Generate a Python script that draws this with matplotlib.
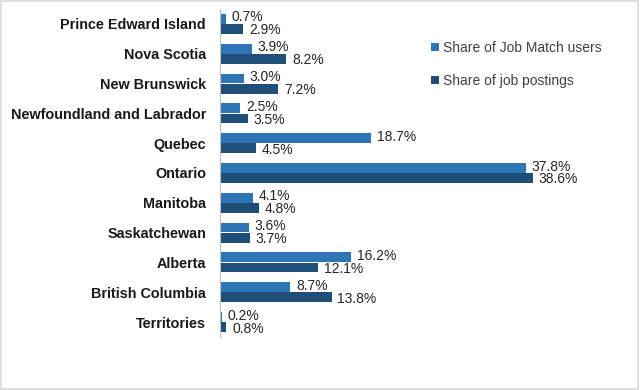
import matplotlib
matplotlib.use("Agg")
import matplotlib.pyplot as plt
from matplotlib.patches import Rectangle
import numpy as np

plt.rcParams['font.family'] = ['Liberation Sans', 'DejaVu Sans']

categories = ["Prince Edward Island", "Nova Scotia", "New Brunswick",
              "Newfoundland and Labrador", "Quebec", "Ontario", "Manitoba",
              "Saskatchewan", "Alberta", "British Columbia", "Territories"]
job_match = [0.7, 3.9, 3.0, 2.5, 18.7, 37.8, 4.1, 3.6, 16.2, 8.7, 0.2]
job_postings = [2.9, 8.2, 7.2, 3.5, 4.5, 38.6, 4.8, 3.7, 12.1, 13.8, 0.8]
series_names = ["Share of Job Match users", "Share of job postings"]

c_light = "#2E75B6"
c_dark = "#1F4E79"

fig = plt.figure(figsize=(6.4, 3.9), dpi=100)
fig.patches.append(Rectangle((0.002, 0.003), 0.995, 0.994, transform=fig.transFigure,
                             fill=False, edgecolor="#D9D9D9", linewidth=1.2))
ax = fig.add_axes([220/640, 1 - 337/390, (625-220)/640, (337-9)/390])

y = np.arange(len(categories))
h = 0.33
b1 = ax.barh(y - h/2 - 0.005, job_match, height=h, color=c_light, label=series_names[0])
b2 = ax.barh(y + h/2 + 0.005, job_postings, height=h, color=c_dark, label=series_names[1])

for bars, vals, dy in ((b1, job_match, 1.0), (b2, job_postings, -1.0)):
    for rect, v in zip(bars, vals):
        ax.annotate(f"{v:.1f}%", (rect.get_width(), rect.get_y() + rect.get_height()/2),
                    xytext=(4, dy), textcoords="offset points", va="center", ha="left",
                    fontsize=10, color="#262626")

ax.set_xlim(0, 50)
ax.set_ylim(len(categories) - 0.5, -0.5)
ax.set_yticks(y)
ax.set_yticklabels(categories, fontsize=10.4, fontweight="bold", color="#1a1a1a")
ax.tick_params(axis="y", length=0, pad=10)
ax.set_xticks([])
for s in ("top", "right", "bottom"):
    ax.spines[s].set_visible(False)
ax.spines["left"].set_color("#BFBFBF")
ax.spines["left"].set_linewidth(0.8)

leg = ax.legend(loc="upper left", bbox_to_anchor=(0.49, 0.94), frameon=False,
                fontsize=10, handlelength=0.55, handleheight=0.55, handletextpad=0.3,
                labelspacing=1.35, labelcolor="#404040")

fig.savefig("out.png", dpi=100)
